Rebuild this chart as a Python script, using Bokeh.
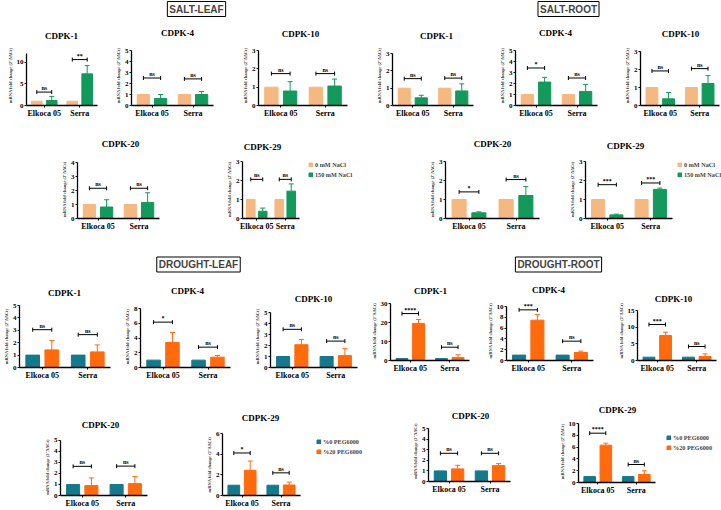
from bokeh.plotting import figure
from bokeh.layouts import column, row
from bokeh.models import (FactorRange, Range1d, Whisker, TeeHead, ColumnDataSource,
                          Legend, LegendItem, Label, LabelSet, FixedTicker)
from bokeh.transform import dodge
from bokeh.embed import file_html
from bokeh.resources import INLINE

# ---------------- data ----------------
genes = ["CDPK-1", "CDPK-4", "CDPK-10", "CDPK-20", "CDPK-29"]
cultivars = ["Elkoca 05", "Serra"]
control = [1.0, 1.0]

salt_labels = ["0 mM NaCl", "150 mM NaCl"]
drought_labels = ["%0 PEG6000", "%20 PEG6000"]

salt_leaf_treat = [[1.15, 7.3], [0.64, 1.0], [0.79, 1.06], [0.82, 1.15], [0.38, 1.44]]
salt_leaf_err = [[0.95, 1.9], [0.36, 0.27], [0.51, 0.38], [0.52, 0.69], [0.17, 0.38]]
salt_leaf_sig = [["ns", "**"], ["ns", "ns"], ["ns", "ns"], ["ns", "ns"], ["ns", "ns"]]
salt_leaf_sig_y = [[3.1, 10.6], [2.5, 2.42], [1.74, 1.74], [2.16, 2.16], [2.06, 2.06]]
salt_leaf_ymax = [12, 5, 3, 4, 3]
salt_leaf_ystep = [5, 1, 1, 1, 1]

salt_root_treat = [[0.44, 0.84], [2.13, 1.28], [0.37, 1.22], [0.3, 1.21], [0.19, 1.53]]
salt_root_err = [[0.15, 0.41], [0.43, 0.64], [0.35, 0.44], [0.05, 0.47], [0.04, 0.07]]
salt_root_sig = [["ns", "ns"], ["*", "ns"], ["ns", "ns"], ["*", "ns"], ["***", "***"]]
salt_root_sig_y = [[1.55, 1.58], [3.41, 2.5], [1.92, 2.05], [1.4, 2.05], [1.78, 1.87]]
salt_root_ymax = [3, 5, 3, 3, 3]
salt_root_ystep = [1, 1, 1, 1, 1]

drought_leaf_treat = [[1.42, 1.26], [3.39, 1.4], [2.07, 1.08], [0.9, 1.08], [2.45, 1.02]]
drought_leaf_err = [[0.75, 0.56], [1.36, 0.23], [0.47, 0.66], [0.7, 0.64], [0.9, 0.28]]
drought_leaf_sig = [["ns", "ns"], ["*", "ns"], ["ns", "ns"], ["ns", "ns"], ["*", "ns"]]
drought_leaf_sig_y = [[3.05, 2.65], [6.15, 2.76], [3.47, 2.4], [2.65, 2.67], [4.13, 2.2]]
drought_leaf_ymax = [5, 8, 5, 5, 6]
drought_leaf_ystep = [1, 2, 1, 1, 2]

drought_root_treat = [[19.5, 1.6], [7.47, 1.48], [7.5, 1.2], [1.19, 1.5], [6.33, 1.36]]
drought_root_err = [[2.1, 1.4], [1.03, 0.25], [1.0, 0.8], [0.34, 0.19], [0.34, 0.62]]
drought_root_sig = [["****", "ns"], ["***", "ns"], ["***", "ns"], ["ns", "ns"], ["****", "ns"]]
drought_root_sig_y = [[24.7, 7.0], [9.38, 3.58], [10.8, 4.2], [2.66, 2.66], [8.36, 3.05]]
drought_root_ymax = [30, 10, 15, 5, 10]
drought_root_ystep = [10, 2, 5, 1, 2]

# ---------------- style ----------------
SALT_COLORS = ["#F5B880", "#12995B"]
DROUGHT_COLORS = ["#14798A", "#FF6A0D"]
SERIF = "Liberation Serif"
SANS = "Liberation Sans"
YLABEL = "mRNA fold change (2\u207b\u0394\u0394Ct)"
YLABEL_PX = 4.5
YLABEL_LEN = 12.3 * YLABEL_PX + 3     # estimated rendered length of the label, px
OFF = 0.21
BAR_W = 0.3
LEG_ROW = 8
LEG_SP = 2
LEG_H = 2 * LEG_ROW + LEG_SP


def panel(gene, treat, err, sig, sig_y, ymax, ystep, colors,
          fig_l, fig_r, band_t, band_b, frame, title_xy):
    fr_l, fr_r, fr_t, fr_b = frame
    ext = fr_t - band_t
    full_h = fr_b - band_t
    # frame reaches the top of the band; the axis line is bounded at ymax
    y_end = ymax * full_h / (fr_b - fr_t)
    p = figure(width=fig_r - fig_l, height=band_b - band_t,
               x_range=FactorRange(*cultivars), y_range=Range1d(0, y_end),
               output_backend="svg", toolbar_location=None, frame_align=False,
               min_border_left=fr_l - fig_l, min_border_right=fig_r - fr_r,
               min_border_top=0, min_border_bottom=band_b - fr_b,
               outline_line_color=None)
    p.xgrid.visible = False
    p.ygrid.visible = False

    tx, ty = title_xy
    p.add_layout(Label(x=tx - fr_l, y=fr_b - ty, x_units="screen", y_units="screen",
                       text=gene, text_align="center", text_baseline="middle",
                       text_font=SERIF, text_font_style="bold", text_font_size="9px",
                       text_color="black"))

    src = ColumnDataSource(dict(
        x=cultivars, ctrl=control, treat=treat,
        upper=[t + e for t, e in zip(treat, err)],
        sig=sig, sig_y=sig_y))

    p.vbar(x=dodge("x", -OFF, range=p.x_range), top="ctrl", width=BAR_W,
           source=src, fill_color=colors[0], line_color=colors[0])
    p.vbar(x=dodge("x", OFF, range=p.x_range), top="treat", width=BAR_W,
           source=src, fill_color=colors[1], line_color=colors[1])
    p.add_layout(Whisker(source=src, base=dodge("x", OFF, range=p.x_range),
                         lower="treat", upper="upper", dimension="height",
                         line_color=colors[1], line_width=1,
                         upper_head=TeeHead(size=5, line_color=colors[1], line_width=1),
                         lower_head=None))
    p.add_layout(Whisker(source=src, base="sig_y",
                         lower=dodge("x", -OFF, range=p.x_range),
                         upper=dodge("x", OFF, range=p.x_range),
                         dimension="width", line_color="black", line_width=1,
                         upper_head=TeeHead(size=4, line_color="black", line_width=1),
                         lower_head=TeeHead(size=4, line_color="black", line_width=1)))
    p.add_layout(LabelSet(x="x", y="sig_y", text="sig", source=src, text_align="center",
                          text_baseline="bottom", y_offset=1, text_font=SERIF,
                          text_font_style="bold", text_font_size="6px", text_color="black"))

    for ax in (p.xaxis[0], p.yaxis[0]):
        ax.axis_line_width = 1.3
        ax.axis_line_color = "black"
        ax.major_tick_line_width = 1
        ax.major_tick_in = 0
        ax.major_tick_out = 2
        ax.minor_tick_in = 0
        ax.minor_tick_out = 0
        ax.major_label_standoff = 1
        ax.major_label_text_font = SERIF
        ax.major_label_text_font_style = "bold"
        ax.major_label_text_color = "black"
    p.xaxis.major_label_text_font_size = "8px"
    p.yaxis.major_label_text_font_size = "7px"
    p.yaxis.bounds = (0, ymax)
    p.yaxis.ticker = FixedTicker(ticks=list(range(0, ymax + 1, ystep)))
    # trailing em-spaces shift the visible label down towards the bounded axis part,
    # without letting the padded text run past the top of the canvas
    pad_px = max(0.0, min(ext, full_h - YLABEL_LEN))
    pad = "\u2003" * int(pad_px // YLABEL_PX)
    p.yaxis.axis_label = YLABEL + pad
    p.yaxis.axis_label_text_font = SERIF
    p.yaxis.axis_label_text_font_style = "bold"
    p.yaxis.axis_label_text_font_size = f"{YLABEL_PX}px"
    p.yaxis.axis_label_standoff = 1
    return p


def legend_fig(fig_l, fig_r, band_t, band_b, colors, labels, glyph_x, top_y):
    w, h = fig_r - fig_l, band_b - band_t
    p = figure(width=w, height=h, x_range=Range1d(0, 1), y_range=Range1d(0, 1),
               output_backend="svg", toolbar_location=None, min_border=0, frame_align=False,
               x_axis_location=None, y_axis_location=None, outline_line_color=None)
    p.xgrid.visible = False
    p.ygrid.visible = False
    nan = float("nan")
    r0 = p.vbar(x=[0.5], top=[nan], width=0.1, fill_color=colors[0], line_color=colors[0])
    r1 = p.vbar(x=[0.5], top=[nan], width=0.1, fill_color=colors[1], line_color=colors[1])
    leg = Legend(items=[LegendItem(label=labels[0], renderers=[r0]),
                        LegendItem(label=labels[1], renderers=[r1])],
                 location=(glyph_x - fig_l, h - (top_y - band_t) - LEG_H),
                 orientation="vertical", glyph_width=5, glyph_height=5,
                 label_height=LEG_ROW, label_standoff=2, spacing=LEG_SP,
                 padding=0, margin=0, label_text_font=SERIF,
                 label_text_font_style="bold", label_text_font_size="6.2px",
                 border_line_color=None, background_fill_alpha=0)
    p.add_layout(leg)
    return p


def header(height, items):
    p = figure(width=721, height=height, x_range=Range1d(0, 721), y_range=Range1d(0, height),
               output_backend="svg", toolbar_location=None, min_border=0, frame_align=False,
               x_axis_location=None, y_axis_location=None, outline_line_color=None)
    p.xgrid.visible = False
    p.ygrid.visible = False
    for txt, x, y in items:
        p.add_layout(Label(x=x, y=y, text=txt, text_align="center", text_baseline="middle",
                           text_font=SANS, text_font_style="bold", text_font_size="10px",
                           border_line_color="black", border_line_width=1,
                           background_fill_color="white", padding=2))
    return p


def band(specs, band_t, band_b, bounds, colors, labels):
    figs = []
    for k, spec in enumerate(specs):
        if spec[0] == "legend":
            _, gx, ty = spec
            figs.append(legend_fig(bounds[k], bounds[k + 1], band_t, band_b,
                                   colors, labels, gx, ty))
            continue
        ds, g, frame, title_xy = spec
        treat, err, sig, sig_y, ymax, ystep = ds
        figs.append(panel(genes[g], treat[g], err[g], sig[g], sig_y[g], ymax[g], ystep[g],
                          colors, bounds[k], bounds[k + 1], band_t, band_b, frame, title_xy))
    return row(*figs)


SL = (salt_leaf_treat, salt_leaf_err, salt_leaf_sig, salt_leaf_sig_y, salt_leaf_ymax, salt_leaf_ystep)
SR = (salt_root_treat, salt_root_err, salt_root_sig, salt_root_sig_y, salt_root_ymax, salt_root_ystep)
DL = (drought_leaf_treat, drought_leaf_err, drought_leaf_sig, drought_leaf_sig_y, drought_leaf_ymax, drought_leaf_ystep)
DR = (drought_root_treat, drought_root_err, drought_root_sig, drought_root_sig_y, drought_root_ymax, drought_root_ystep)

hdr1 = header(18, [("SALT-LEAF", 196, 9.5), ("SALT-ROOT", 568, 9.5)])

rowB = band([(SL, 0, (26, 97, 53, 105), (61, 35)),
             (SL, 1, (131, 213, 50, 105), (177, 32)),
             (SL, 2, (258, 347, 50, 105), (300, 33)),
             (SR, 0, (392, 473, 53, 105), (436, 35)),
             (SR, 1, (515, 597, 50, 105), (555, 32)),
             (SR, 2, (640, 719, 51, 105), (680, 33))],
            18, 128, [0, 105, 232, 366, 490, 614, 721], SALT_COLORS, salt_labels)
rowC = band([(SL, 3, (77, 159, 162, 218), (120, 143)),
             (SL, 4, (242, 299, 161, 218), (262, 146)),
             ("legend", 308, 160),
             (SR, 3, (445, 539, 161, 218), (492, 143)),
             (SR, 4, (585, 672, 161, 218), (625, 145)),
             ("legend", 677, 160)],
            128, 250, [0, 216, 302, 419, 559, 675, 721], SALT_COLORS, salt_labels)

hdr2 = header(28, [("DROUGHT-LEAF", 198, 14), ("DROUGHT-ROOT", 558, 14)])

rowE = band([(DL, 0, (13, 110, 305, 367), (58, 292)),
             (DL, 1, (140, 230, 308, 367), (187, 290)),
             (DL, 2, (270, 357, 312, 367), (313, 298)),
             (DR, 0, (390, 469, 303, 360), (430, 290)),
             (DR, 1, (506, 593, 306, 360), (548, 289)),
             (DR, 2, (637, 716, 310, 360), (673, 298))],
            278, 384, [0, 116, 246, 366, 482, 612, 721], DROUGHT_COLORS, drought_labels)
rowF = band([(DL, 3, (60, 147, 442, 499), (100, 428)),
             (DL, 4, (222, 300, 435, 499), (260, 421)),
             ("legend", 316, 437),
             (DR, 3, (428, 510, 428, 481), (470, 415)),
             (DR, 4, (578, 655, 423, 482), (617, 409)),
             ("legend", 666, 433)],
            384, 510, [0, 198, 303, 404, 554, 658, 721], DROUGHT_COLORS, drought_labels)

page = column(hdr1, rowB, rowC, hdr2, rowE, rowF)
open("out.html", "w").write(file_html(page, INLINE))
